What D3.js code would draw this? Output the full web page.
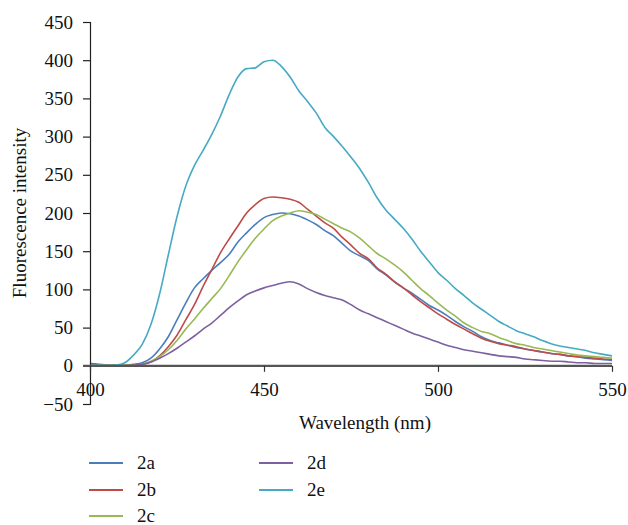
<!DOCTYPE html>
<html>
<head>
<meta charset="utf-8">
<script src="https://cdn.jsdelivr.net/npm/d3@7/dist/d3.min.js"></script>
<style>
  html, body { margin: 0; padding: 0; background: #fff; }
  svg { display: block; }
  text { font-family: "Liberation Serif", "DejaVu Serif", serif; fill: #111; }
</style>
</head>
<body>
<svg id="chart" width="628" height="525"></svg>
<script>
// ---- data ----
const wavelengths = d3.range(0, 61).map(i => 400 + i * 2.5);
const seriesNames = ["2a", "2b", "2c", "2d", "2e"];
const seriesColors = ["#4a7ebb", "#be4b48", "#98b954", "#7d60a0", "#46aac5"];
const yTicks = [-50, 0, 50, 100, 150, 200, 250, 300, 350, 400, 450];
const xTicks = [400, 450, 500, 550];

const s2a = [1,1,0.5,0.5,1,2,4,10,22,38,60,82,102,114,125,135,146,162,174,185,194,198,200,199,196,191,185,177,170,160,150,144,138,127,119,110,102,95,87,79,73,66,58,51,45,38,33,30,27,24,22,20,18,16,15,13,12,10,9,8,7];
const s2b = [3,2,1,1,0.5,1,2,5,13,25,40,60,80,104,126,148,166,183,200,211,219,221,220,218,214,205,196,187,180,168,158,147,140,128,120,110,102,93,84,76,68,61,54,48,42,36,32,29,27,25,22,20,18,16,15,13,12,11,10,9,8];
const s2c = [0.5,0.5,0.5,0.5,0.5,0.5,2,6,12,21,33,48,61,75,88,101,118,136,152,167,179,190,196,200,203,201,198,192,186,180,175,167,157,147,140,132,123,112,101,92,82,73,65,56,50,45,42,37,33,29,27,24,22,20,18,16,14,13,12,11,10];
const s2d = [0,0,0,0,0,0.5,2,5,10,16,23,31,39,48,56,66,76,85,93,98,102,105,108,110,107,101,96,92,89,86,80,73,68,63,58,53,48,43,39,35,31,27,24,21,19,17,15,13,12,11,9,8,7,6,6,5,4,4,3,3,3];
const s2e = [1,1,0.5,1,4,14,28,54,94,145,195,235,262,282,303,327,355,378,389,390,398,400,392,378,360,346,331,312,300,287,273,258,240,220,204,192,180,166,150,136,122,112,101,92,82,74,66,58,52,46,42,38,33,29,26,24,22,20,17,15,13];
const seriesValues = [s2a, s2b, s2c, s2d, s2e];

// ---- chart ----
const svg = d3.select("#chart");
const x = d3.scaleLinear().domain([400, 550]).range([90, 612]);
const y = d3.scaleLinear().domain([-50, 450]).range([404, 22]);

// lines
const line = d3.line().curve(d3.curveMonotoneX).x(d => x(d[0])).y(d => y(d[1]));
seriesValues.forEach((vals, i) => {
  const pts = wavelengths.map((w, j) => [w, vals[j]]);
  svg.append("path")
    .datum(pts)
    .attr("fill", "none")
    .attr("stroke", seriesColors[i])
    .attr("stroke-width", 1.6)
    .attr("stroke-linejoin", "round")
    .attr("d", line);
});

// y axis
const yAxis = d3.axisLeft(y).tickValues(yTicks).tickSize(7).tickPadding(10)
  .tickFormat(d3.format("d"));
const gy = svg.append("g").attr("transform", `translate(${x(400)},0)`).call(yAxis);
gy.select(".domain").attr("stroke", "#222").attr("stroke-width", 1.2);
gy.selectAll(".tick line").attr("stroke", "#222").attr("stroke-width", 1.2);
gy.selectAll(".tick text").attr("font-size", 19).attr("font-family", "Liberation Serif").attr("fill", "#111");

// x axis at y = 0
const xAxis = d3.axisBottom(x).tickValues(xTicks).tickSize(6).tickPadding(11)
  .tickFormat(d3.format("d"));
const gx = svg.append("g").attr("transform", `translate(0,${y(0)})`).call(xAxis);
gx.select(".domain").remove();
gx.insert("line", ":first-child")
  .attr("x1", x(400) - 7).attr("x2", x(550))
  .attr("y1", 0).attr("y2", 0)
  .attr("stroke", "#555").attr("stroke-width", 2.2);
gx.selectAll(".tick line").attr("stroke", "#333").attr("stroke-width", 1.2);
gx.selectAll(".tick text").attr("font-size", 19).attr("font-family", "Liberation Serif").attr("fill", "#111");

// axis titles
svg.append("text")
  .attr("x", 365).attr("y", 429)
  .attr("text-anchor", "middle")
  .attr("font-size", 19)
  .text("Wavelength (nm)");
svg.append("text")
  .attr("transform", `translate(26,${(y(-50) + y(450)) / 2}) rotate(-90)`)
  .attr("text-anchor", "middle")
  .attr("font-size", 19)
  .text("Fluorescence intensity");

// legend
const legendPos = [[89, 463], [89, 490], [89, 516], [259, 463], [259, 490]];
seriesNames.forEach((name, i) => {
  const [lx, ly] = legendPos[i];
  svg.append("line")
    .attr("x1", lx).attr("x2", lx + 34)
    .attr("y1", ly).attr("y2", ly)
    .attr("stroke", seriesColors[i]).attr("stroke-width", 2);
  svg.append("text")
    .attr("x", lx + 48).attr("y", ly)
    .attr("dy", "0.32em")
    .attr("font-size", 19)
    .text(name);
});
</script>
</body>
</html>
